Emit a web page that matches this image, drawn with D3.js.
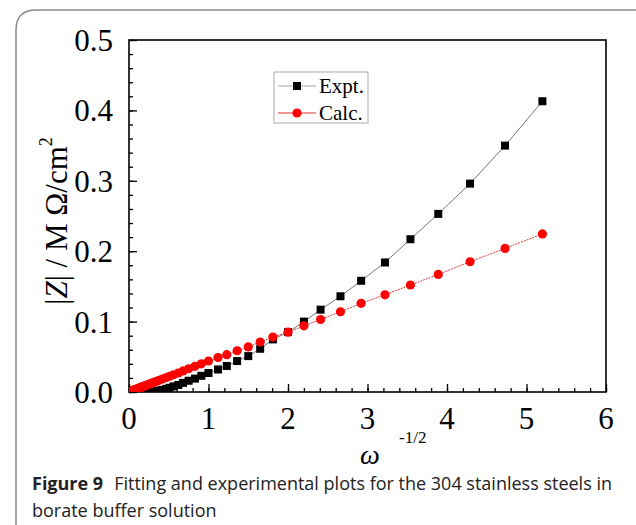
<!DOCTYPE html>
<html lang="en">
<head>
  <meta charset="UTF-8">
  <title>Figure 9</title>
  <script src="https://d3js.org/d3.v7.min.js"></script>
  <style>
    body { margin: 0; background: #fff; }
    svg { display: block; }
    .serif { font-family: "Liberation Serif", "DejaVu Serif", serif; }
  </style>
</head>
<body>
  <svg width="636" height="525"></svg>

  <script>
    // values
    const omega = [5.20, 4.73, 4.29, 3.89, 3.54, 3.22, 2.92, 2.66, 2.41, 2.20, 2.00, 1.81, 1.65, 1.50, 1.36, 1.23, 1.12, 1.00,
                   0.91, 0.83, 0.75, 0.68, 0.62, 0.56, 0.51, 0.47, 0.42, 0.38, 0.35, 0.32, 0.29, 0.26, 0.24, 0.22, 0.20,
                   0.18, 0.16, 0.15, 0.13, 0.12, 0.11, 0.10, 0.09, 0.08, 0.075, 0.068, 0.062, 0.056, 0.051, 0.046, 0.042, 0.038];
    const expt = [0.413, 0.350, 0.296, 0.253, 0.217, 0.184, 0.158, 0.136, 0.117, 0.100, 0.085, 0.0747, 0.0614, 0.051, 0.044, 0.037, 0.032, 0.027,
                  0.023, 0.019, 0.016, 0.013, 0.010, 0.008, 0.006, 0.0045, 0.003, 0.002, 0.0012, 0.0006, 0.0003, 0.0001, 0, 0, 0,
                  0, 0, 0, 0, 0, 0, 0, 0, 0, 0, 0, 0, 0, 0, 0, 0, 0];
    const calc = [0.2245, 0.204, 0.185, 0.167, 0.152, 0.138, 0.126, 0.114, 0.103, 0.094, 0.085, 0.078, 0.071, 0.064, 0.0586, 0.053, 0.049, 0.044,
                  0.040, 0.0365, 0.033, 0.030, 0.027, 0.0245, 0.0224, 0.0206, 0.0185, 0.0167, 0.0153, 0.014, 0.0127, 0.0115, 0.0105, 0.0096, 0.0087,
                  0.0079, 0.0071, 0.0065, 0.0058, 0.0052, 0.0047, 0.0043, 0.0039, 0.0035, 0.0032, 0.0029, 0.0027, 0.0024, 0.0022, 0.002, 0.0018, 0.0016];
    const xTicks = [0, 1, 2, 3, 4, 5, 6];
    const yTicks = [0.0, 0.1, 0.2, 0.3, 0.4, 0.5];
    const seriesNames = ["Expt.", "Calc."];

    const svg = d3.select("svg");
    const plot = {left: 129, right: 606, top: 40, bottom: 392};

    const x = d3.scaleLinear().domain([0, 6]).range([plot.left, plot.right]);
    const y = d3.scaleLinear().domain([0, 0.5]).range([plot.bottom, plot.top]);

    // outer rounded frame (cut by the image edge)
    svg.append("path")
      .attr("d", "M16,540 L16,30 Q16,10 36,10 L650,10")
      .attr("fill", "none")
      .attr("stroke", "#8a8a8a")
      .attr("stroke-width", 1.5);

    svg.append("defs").append("clipPath").attr("id", "clip")
      .append("rect")
      .attr("x", plot.left).attr("y", plot.top)
      .attr("width", plot.right - plot.left).attr("height", plot.bottom - plot.top);

    // axes with inward ticks
    svg.append("g").attr("transform", `translate(0,${plot.bottom})`)
      .call(d3.axisTop(x).tickValues(d3.range(0, 6.01, 0.2)).tickSize(4).tickFormat(""));
    svg.append("g").attr("transform", `translate(0,${plot.bottom})`)
      .call(d3.axisTop(x).tickValues(xTicks).tickSize(8).tickFormat(""));
    svg.append("g").attr("transform", `translate(${plot.left},0)`)
      .call(d3.axisRight(y).tickValues(d3.range(0, 0.501, 0.02)).tickSize(4).tickFormat(""));
    svg.append("g").attr("transform", `translate(${plot.left},0)`)
      .call(d3.axisRight(y).tickValues(yTicks).tickSize(8).tickFormat(""));
    svg.selectAll(".domain").remove();
    svg.selectAll(".tick line").attr("stroke", "#000").attr("stroke-width", 1.3);

    svg.append("rect")
      .attr("x", plot.left).attr("y", plot.top)
      .attr("width", plot.right - plot.left).attr("height", plot.bottom - plot.top)
      .attr("fill", "none").attr("stroke", "#000").attr("stroke-width", 1.6);

    // tick labels
    svg.append("g").attr("class", "serif")
      .selectAll("text").data(yTicks).join("text")
      .attr("x", plot.left - 16)
      .attr("y", d => y(d) + 11)
      .attr("text-anchor", "end")
      .attr("font-size", 31)
      .text(d => d.toFixed(1));
    svg.append("g").attr("class", "serif")
      .selectAll("text").data(xTicks).join("text")
      .attr("x", d => x(d))
      .attr("y", plot.bottom + 37)
      .attr("text-anchor", "middle")
      .attr("font-size", 31)
      .text(d => d);

    // axis titles
    svg.append("text").attr("class", "serif")
      .attr("x", 370).attr("y", 464).attr("text-anchor", "middle")
      .attr("font-style", "italic").attr("font-size", 28).text("ω");
    svg.append("text").attr("class", "serif")
      .attr("x", 399).attr("y", 443).attr("font-size", 17).text("-1/2");

    const yt = svg.append("text").attr("class", "serif")
      .attr("transform", "translate(67,221) rotate(-90)")
      .attr("text-anchor", "middle")
      .attr("font-size", 31);
    yt.append("tspan").text("|");
    yt.append("tspan").attr("font-style", "italic").text("Z");
    yt.append("tspan").text("| / M Ω/cm");
    yt.append("tspan").attr("font-size", 18).attr("dy", -15).text("2");

    // series
    const pts = omega.map((w, i) => ({w, e: expt[i], c: calc[i]}));
    const g = svg.append("g").attr("clip-path", "url(#clip)");

    g.append("path").datum(pts)
      .attr("fill", "none").attr("stroke", "#555").attr("stroke-width", 0.8)
      .attr("d", d3.line().x(d => x(d.w)).y(d => y(d.e)));
    g.selectAll("rect.expt").data(pts).join("rect")
      .attr("class", "expt")
      .attr("x", d => x(d.w) - 4).attr("y", d => y(d.e) - 4)
      .attr("width", 8).attr("height", 8).attr("fill", "#000");

    g.append("path").datum(pts)
      .attr("fill", "none").attr("stroke", "#e02020").attr("stroke-width", 0.9)
      .attr("stroke-dasharray", "2,1")
      .attr("d", d3.line().x(d => x(d.w)).y(d => y(d.c)));
    g.selectAll("circle.calc").data(pts).join("circle")
      .attr("class", "calc")
      .attr("cx", d => x(d.w)).attr("cy", d => y(d.c))
      .attr("r", 4.6).attr("fill", "#f00");

    // legend
    const lg = svg.append("g").attr("transform", "translate(274,72)");
    lg.append("rect").attr("width", 94).attr("height", 51)
      .attr("fill", "#fff").attr("stroke", "#aaa").attr("stroke-width", 1);
    seriesNames.forEach((name, i) => {
      const row = lg.append("g").attr("transform", `translate(0,${14 + i * 27})`);
      row.append("line").attr("x1", 4).attr("x2", 42)
        .attr("stroke", i === 0 ? "#aaa" : "#e03030").attr("stroke-width", 1);
      if (i === 0) {
        row.append("rect").attr("x", 19).attr("y", -4).attr("width", 8).attr("height", 8).attr("fill", "#000");
      } else {
        row.append("circle").attr("cx", 23).attr("r", 4.6).attr("fill", "#f00");
      }
      row.append("text").attr("class", "serif")
        .attr("x", 45).attr("y", 7).attr("font-size", 21).text(name);
    });

    // caption
    const cap = svg.append("g").style("font-family", "'Open Sans', 'Noto Sans', sans-serif").attr("fill", "#222");
    const l1 = cap.append("text").attr("x", 32).attr("y", 490).attr("font-size", 18);
    l1.append("tspan").attr("font-weight", "bold").text("Figure 9");
    l1.append("tspan").attr("dx", 11).text("Fitting and experimental plots for the 304 stainless steels in");
    cap.append("text").attr("x", 32).attr("y", 517).attr("font-size", 18).text("borate buffer solution");
  </script>
</body>
</html>
